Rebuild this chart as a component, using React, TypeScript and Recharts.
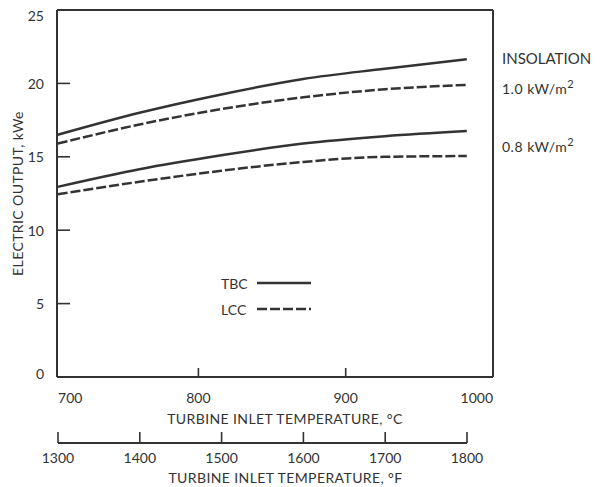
import React from "react";
import { LineChart, Line, XAxis, YAxis, ReferenceLine, Legend } from "recharts";

const FONT = "Lato, 'DejaVu Sans', sans-serif";
const INK = "#333";

// readings at the Fahrenheit grid the curves were plotted on
const tempF = [1300, 1400, 1500, 1600, 1700, 1800];
const tbcHigh = [16.5, 18.0, 19.25, 20.3, 21.0, 21.65];
const lccHigh = [15.9, 17.2, 18.25, 19.05, 19.6, 19.9];
const tbcLow = [12.95, 14.15, 15.1, 15.9, 16.4, 16.75];
const lccLow = [12.45, 13.3, 14.05, 14.65, 15.0, 15.05];

const celsiusTicks = [700, 800, 900, 1000];
const fahrenheitTicks = [1300, 1400, 1500, 1600, 1700, 1800];
const outputTicks = [0, 5, 10, 15, 20, 25];
const rightTicks = [15, 20];

const toC = (f: number) => ((f - 32) * 5) / 9;

const data = tempF.map((f, i) => ({
  c: toC(f),
  tbcHigh: tbcHigh[i],
  lccHigh: lccHigh[i],
  tbcLow: tbcLow[i],
  lccLow: lccLow[i],
}));
const fData = fahrenheitTicks.map((f) => ({ f }));

const series = [
  { key: "tbcHigh", dash: undefined },
  { key: "lccHigh", dash: "10 3" },
  { key: "tbcLow", dash: undefined },
  { key: "lccLow", dash: "10 3" },
];

const legendItems = [
  { name: "TBC", dash: undefined },
  { name: "LCC", dash: "10 3" },
];

const textStyle = { fontFamily: FONT, fontSize: 14, fill: INK };
const titleStyle = { ...textStyle, letterSpacing: 0.4 };

function OutputTick({ x, y, payload }: any) {
  const v = payload.value;
  const dy = v === 25 ? 5 : v === 0 ? -4 : 0;
  return (
    <g>
      {v > 0 && v < 25 && (
        <line x1={x} x2={x + 13} y1={y} y2={y} stroke={INK} strokeWidth={1.6} />
      )}
      <text x={x - 13} y={y + dy} textAnchor="end" dominantBaseline="central" {...textStyle}>
        {v}
      </text>
    </g>
  );
}

function RightTick({ x, y }: any) {
  return <line x1={x - 10} x2={x} y1={y} y2={y} stroke={INK} strokeWidth={1.6} />;
}

function CelsiusTick({ x, y, payload }: any) {
  const v = payload.value;
  const first = v === celsiusTicks[0];
  const last = v === celsiusTicks[celsiusTicks.length - 1];
  const anchor = first ? "start" : last ? "end" : "middle";
  return (
    <g>
      {!first && !last && (
        <line x1={x} x2={x} y1={y - 9} y2={y} stroke={INK} strokeWidth={1.6} />
      )}
      <text x={first ? x + 7 : x} y={y + 20} textAnchor={anchor} dominantBaseline="central" {...textStyle}>
        {v}
      </text>
    </g>
  );
}

function FahrenheitTick({ x, y, payload }: any) {
  return (
    <g>
      <line x1={x} x2={x} y1={y - 11} y2={y} stroke={INK} strokeWidth={1.6} />
      <text x={x} y={y + 14} textAnchor="middle" dominantBaseline="central" {...textStyle}>
        {payload.value}
      </text>
    </g>
  );
}

// axis title placed below the axis line, nudged right like the original
function AxisTitle({ viewBox, text, below, shift }: any) {
  const cx = viewBox.x + viewBox.width / 2 + shift;
  return (
    <text x={cx} y={viewBox.y + below} textAnchor="middle" dominantBaseline="central" {...titleStyle}>
      {text}
    </text>
  );
}

function YLabel({ viewBox }: any) {
  const cx = viewBox.x + 17;
  const cy = viewBox.y + viewBox.height / 2;
  return (
    <text
      x={cx}
      y={cy}
      transform={`rotate(-90 ${cx} ${cy})`}
      textAnchor="middle"
      dominantBaseline="central"
      {...titleStyle}
    >
      ELECTRIC OUTPUT, kWe
    </text>
  );
}

function LegendBox() {
  return (
    <div style={{ fontFamily: FONT, fontSize: 14, color: INK }}>
      {legendItems.map((it) => (
        <div key={it.name} style={{ display: "flex", alignItems: "center", height: 26 }}>
          <span style={{ width: 36 }}>{it.name}</span>
          <svg width={54} height={6}>
            <line x1={0} y1={3} x2={54} y2={3} stroke={INK} strokeWidth={2.5} strokeDasharray={it.dash} />
          </svg>
        </div>
      ))}
    </div>
  );
}

const sideText: React.CSSProperties = {
  position: "absolute",
  left: 502,
  fontFamily: FONT,
  color: INK,
  fontSize: 14,
  lineHeight: "16px",
  whiteSpace: "nowrap",
};

export default function App() {
  return (
    <div style={{ position: "relative", width: 600, height: 487, marginTop: -8, marginLeft: -8, background: "#fff" }}>
      <div style={{ position: "absolute", left: 0, top: 0 }}>
        <LineChart width={600} height={487} data={data} margin={{ top: 10, right: 97, bottom: 0, left: 0 }}>
          <XAxis
            dataKey="c"
            type="number"
            domain={[704, 1000]}
            allowDataOverflow
            ticks={celsiusTicks}
            interval={0}
            tickSize={0}
            tickMargin={0}
            tick={<CelsiusTick />}
            height={110}
            axisLine={{ stroke: INK, strokeWidth: 2 }}
            label={<AxisTitle text="TURBINE INLET TEMPERATURE, °C" below={41} shift={10} />}
          />
          <YAxis
            yAxisId="left"
            domain={[0, 25]}
            ticks={outputTicks}
            interval={0}
            width={57}
            tickSize={0}
            tickMargin={0}
            tick={<OutputTick />}
            axisLine={{ stroke: INK, strokeWidth: 2 }}
            label={<YLabel />}
          />
          <YAxis
            yAxisId="right"
            orientation="right"
            domain={[0, 25]}
            ticks={rightTicks}
            interval={0}
            width={10}
            tickSize={0}
            tickMargin={0}
            tick={<RightTick />}
            axisLine={{ stroke: INK, strokeWidth: 2 }}
          />
          <ReferenceLine yAxisId="left" y={25} stroke={INK} strokeWidth={2} />
          {series.map((s) => (
            <Line
              key={s.key}
              yAxisId="left"
              dataKey={s.key}
              type="monotone"
              stroke={INK}
              strokeWidth={2.5}
              strokeDasharray={s.dash}
              dot={false}
              isAnimationActive={false}
            />
          ))}
          <Legend
            layout="horizontal"
            verticalAlign="middle"
            align="center"
            content={() => <LegendBox />}
            wrapperStyle={{ left: 221, top: 270, width: "auto", height: "auto" }}
          />
        </LineChart>
      </div>
      <div style={{ position: "absolute", left: 0, top: 0 }}>
        <LineChart width={600} height={487} data={fData} margin={{ top: 0, right: 133, bottom: 0, left: 58 }}>
          <XAxis
            dataKey="f"
            type="number"
            domain={[1300, 1800]}
            ticks={fahrenheitTicks}
            interval={0}
            tickSize={0}
            tickMargin={0}
            tick={<FahrenheitTick />}
            height={44}
            axisLine={{ stroke: INK, strokeWidth: 2 }}
            label={<AxisTitle text="TURBINE INLET TEMPERATURE, °F" below={34} shift={23} />}
          />
          <YAxis hide domain={[0, 1]} />
        </LineChart>
      </div>
      <div style={{ ...sideText, top: 50, fontSize: 15 }}>INSOLATION</div>
      <div style={{ ...sideText, top: 76, letterSpacing: 0.5 }}>
        1.0 kW/m<sup style={{ fontSize: 11 }}>2</sup>
      </div>
      <div style={{ ...sideText, top: 134, letterSpacing: 0.5 }}>
        0.8 kW/m<sup style={{ fontSize: 11 }}>2</sup>
      </div>
    </div>
  );
}
